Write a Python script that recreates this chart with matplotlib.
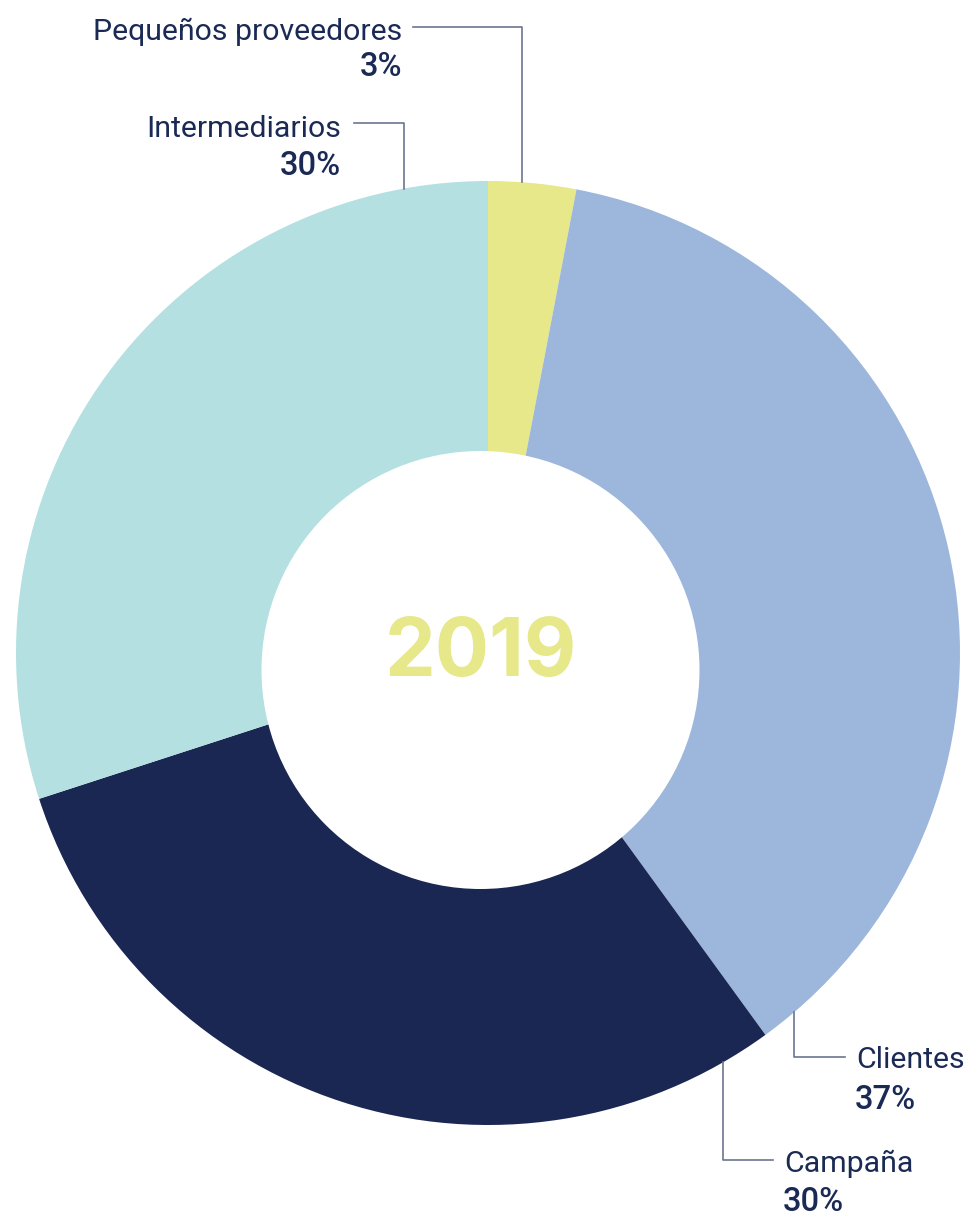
import matplotlib
matplotlib.use("Agg")
import matplotlib.pyplot as plt
from matplotlib.patches import Circle
import numpy as np

categories = ["Pequeños proveedores", "Clientes", "Campaña", "Intermediarios"]
values = [3, 37, 30, 30]
pct_labels = ["3%", "37%", "30%", "30%"]
colors = ["#E6E88A", "#9CB7DB", "#1A2752", "#B4E0E1"]
center_label = "2019"

W, H = 967, 1217
fig = plt.figure(figsize=(W / 100, H / 100), dpi=100)
ax = fig.add_axes([0, 0, 1, 1])

def py(y):
    return H - y

cx, cy, R = 488, py(653), 472
ax.pie(values, colors=colors, startangle=90, counterclock=False,
       center=(cx, cy), radius=R, frame=True,
       wedgeprops=dict(linewidth=0))
ax.set_xlim(0, W)
ax.set_ylim(0, H)
ax.set_aspect("equal")
ax.axis("off")
ax.add_patch(Circle((480.5, py(670)), 219, facecolor="white", edgecolor="none", zorder=5))
ax.text(481, py(655), center_label, ha="center", va="center", fontsize=58,
        fontweight="bold", family="Inter", color="#E6E88A", zorder=6)

txt = "#1B2A55"
lc = "#6B7590"
fs = 21.8
fsp = 23.5

def edge_y(x, top=True):
    d = np.sqrt(R ** 2 - (x - cx) ** 2)
    return cy + d if top else cy - d

# Pequeños proveedores
ax.plot([413, 522, 522], [py(27), py(27), edge_y(522)], color=lc, lw=1.2)
ax.text(402, py(40), categories[0], ha="right", va="baseline", fontsize=fs, color=txt, family="Roboto")
ax.text(402, py(76), pct_labels[0], ha="right", va="baseline", fontsize=fsp, color=txt, family="Roboto", fontweight="medium")
# Intermediarios
ax.plot([354, 404, 404], [py(123), py(123), edge_y(404)], color=lc, lw=1.2)
ax.text(341, py(137), categories[3], ha="right", va="baseline", fontsize=fs, color=txt, family="Roboto")
ax.text(341, py(175), pct_labels[3], ha="right", va="baseline", fontsize=fsp, color=txt, family="Roboto", fontweight="medium")
# Clientes
ax.plot([794, 794, 845], [edge_y(794, False), py(1057), py(1057)], color=lc, lw=1.2)
ax.text(856, py(1068), categories[1], ha="left", va="baseline", fontsize=fs, color=txt, family="Roboto")
ax.text(855, py(1109), pct_labels[1], ha="left", va="baseline", fontsize=fsp, color=txt, family="Roboto", fontweight="medium")
# Campaña
ax.plot([723, 723, 773], [edge_y(723, False), py(1160), py(1160)], color=lc, lw=1.2)
ax.text(784, py(1172), categories[2], ha="left", va="baseline", fontsize=fs, color=txt, family="Roboto")
ax.text(783, py(1211), pct_labels[2], ha="left", va="baseline", fontsize=fsp, color=txt, family="Roboto", fontweight="medium")

fig.savefig("out.png", dpi=100)
